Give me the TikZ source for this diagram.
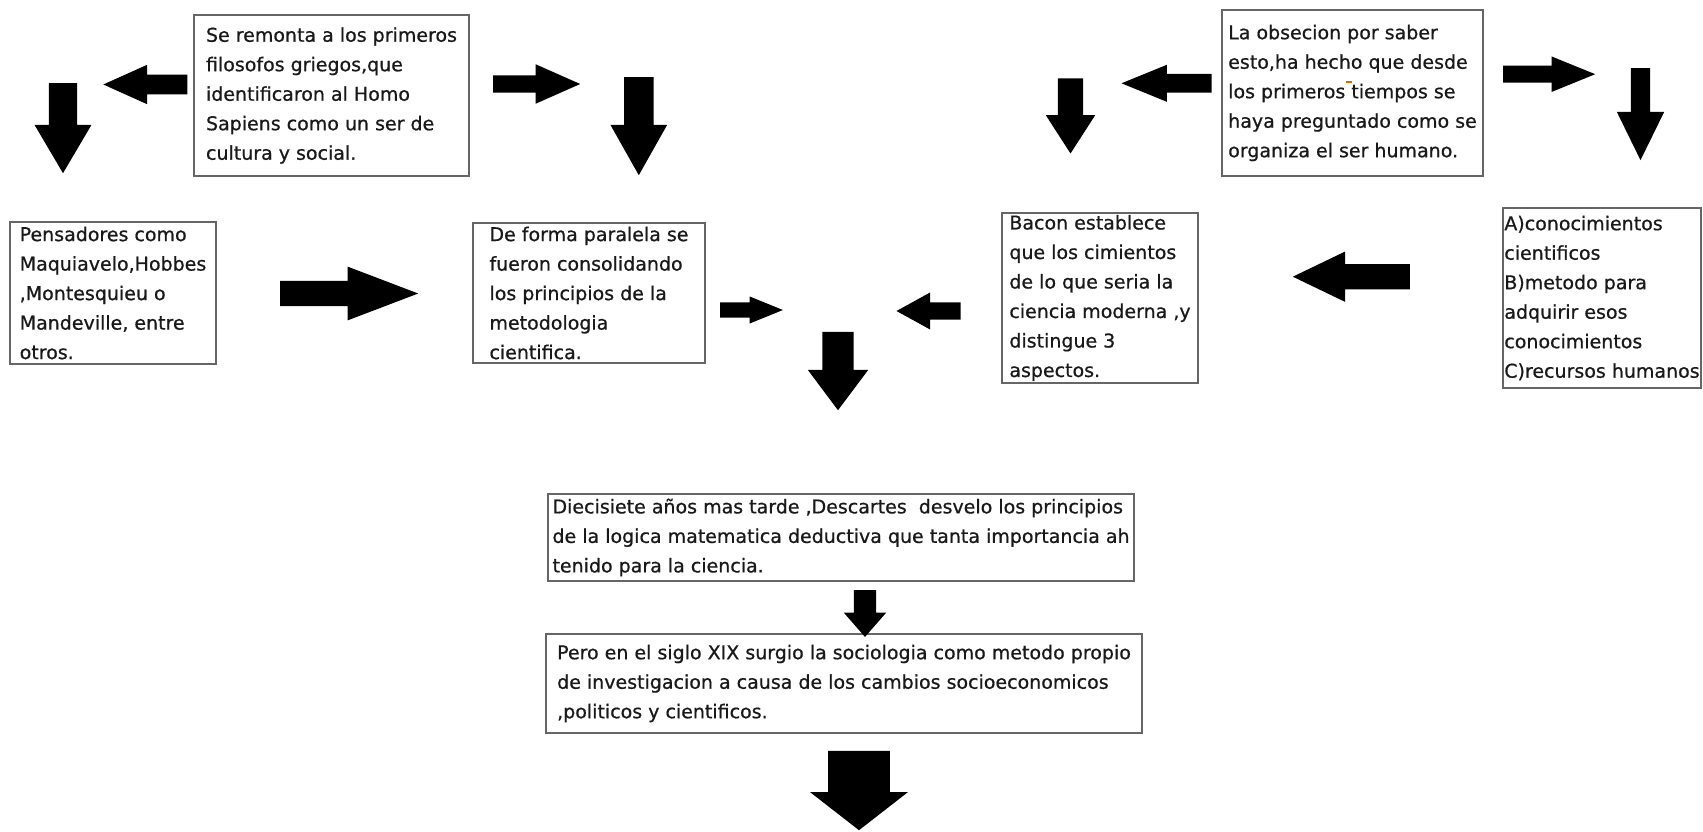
\documentclass[tikz,border=0pt]{standalone}
\usepackage{fontspec}
\newfontfamily\notefont[FakeBold=0.7]{DejaVu Sans}
\usetikzlibrary{shapes.arrows}

\begin{document}
\begin{tikzpicture}[x=1pt, y=-1pt,
  block/.style={draw=black!60, line width=1.5pt, text=black!90, align=left,
    inner xsep=1pt, inner ysep=0pt, font=\notefont\fontsize{19}{29.5}\selectfont},
  fat/.style n args={4}{single arrow, fill=black, inner xsep=0pt, inner ysep={#3/2},
    minimum height=#1, minimum width=#2, anchor=tail,
    single arrow head extend={(#2-#3)/2}, single arrow tip angle=#4}
]
  \path[fill=white] (0,0) rectangle (1703,832);

  \node[block, minimum width=275, minimum height=161] (remonta) at (331.5,95.5) {Se remonta a los primeros\\filosofos griegos,que\\identificaron al Homo\\Sapiens como un ser de\\cultura y social.};
  \node[block, minimum width=206, minimum height=142] (pensadores) at (113,293) {Pensadores como\\Maquiavelo,Hobbes\\,Montesquieu o\\Mandeville, entre\\otros.};
  \node[block, minimum width=232, minimum height=140] (paralela) at (589,293) {De forma paralela se\\fueron consolidando\\los principios de la\\metodologia\\cientifica.};
  \node[block, minimum width=261, minimum height=166] (obsesion) at (1352.5,93) {La obsecion por saber\\esto,ha hecho que desde\\los primeros tiempos se\\haya preguntado como se\\organiza el ser humano.};
  \node[block, minimum width=196, minimum height=170] (bacon) at (1100,298) {Bacon establece\\que los cimientos\\de lo que seria la\\ciencia moderna ,y\\distingue 3\\aspectos.};
  \node[block, minimum width=198, minimum height=180] (aspectos) at (1602,298) {A)conocimientos\\cientificos\\B)metodo para\\adquirir esos\\conocimientos\\C)recursos humanos};
  \node[block, minimum width=586, minimum height=87] (descartes) at (841,537.5) {Diecisiete años mas tarde ,Descartes\ \ desvelo los principios\\de la logica matematica deductiva que tanta importancia ah\\tenido para la ciencia.};
  \node[block, minimum width=596, minimum height=99] (sociologia) at (844,683.5) {Pero en el siglo XIX surgio la sociologia como metodo propio\\de investigacion a causa de los cambios socioeconomicos\\,politicos y cientificos.};

  % top left
  \node[fat={84}{39}{19.3}{48.4}, rotate=180] (arrL1) at (187.5,84.5) {};
  \node[fat={90}{56.5}{28}{61}, rotate=-90] (arrD1) at (63,83) {};
  \node[fat={87}{39}{16.7}{47.8}] (arrR1) at (493,84) {};
  \node[fat={98}{56.4}{29}{58.8}, rotate=-90] (arrD2) at (638.8,77) {};

  % middle row
  \node[fat={138}{53.3}{25}{41.7}] (arrR2) at (280,293.5) {};
  \node[fat={62.7}{26.6}{15}{44.3}] (arrR3) at (720,310) {};
  \node[fat={64}{36.7}{16.7}{57.7}, rotate=180] (arrL2) at (960.7,311) {};
  \node[fat={78.3}{60}{31}{73.7}, rotate=-90] (arrD3) at (838,331.7) {};
  \node[fat={117}{50}{25}{51.4}, rotate=180] (arrL3) at (1410,276.7) {};

  % top right
  \node[fat={90}{36.7}{18.3}{44.4}, rotate=180] (arrL4) at (1211.7,83.3) {};
  \node[fat={75}{49}{25}{65.6}, rotate=-90] (arrD4) at (1070.5,78.3) {};
  \node[fat={92}{35}{16.7}{44.3}] (arrR4) at (1503,74.2) {};
  \node[fat={92}{47}{19}{52.2}, rotate=-90] (arrD5) at (1640.5,68) {};

  % bottom
  \node[fat={46.7}{42}{22}{82.4}, rotate=-90] (arrD6) at (865,590) {};
  \node[fat={79.3}{97.6}{61.5}{104.2}, rotate=-90] (arrD7) at (859,750.7) {};

  \draw[orange!85!black, line width=1.2pt] (1346,82) -- (1352,82);
\end{tikzpicture}
\end{document}
